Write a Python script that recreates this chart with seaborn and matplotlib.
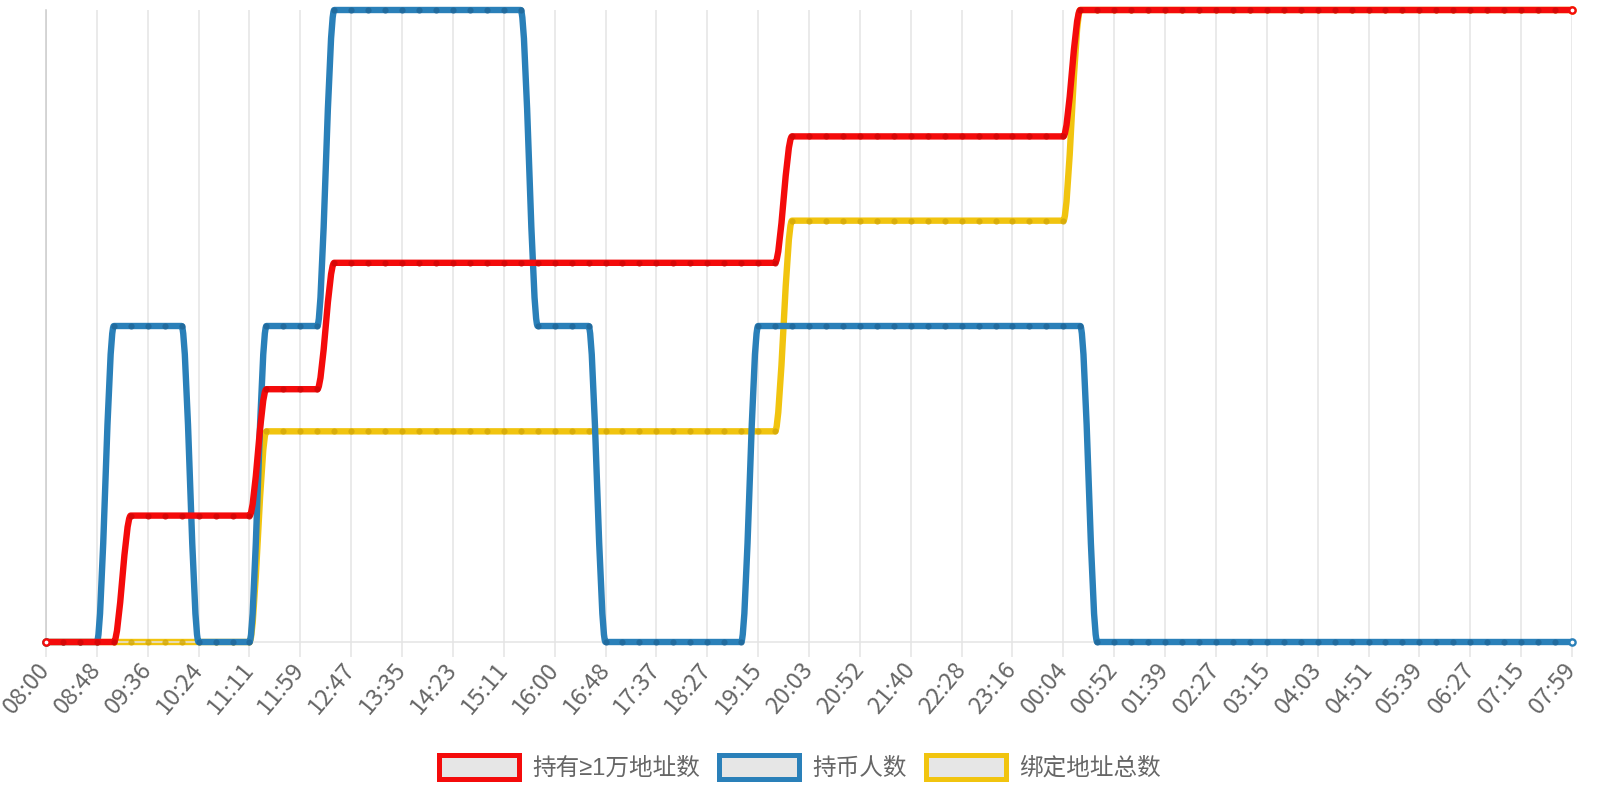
import numpy as np
import matplotlib
matplotlib.use("Agg")
import matplotlib.pyplot as plt
import seaborn as sns
from matplotlib.path import Path
from matplotlib.patches import PathPatch, Patch

# ---------------- data ----------------
tick_labels = ["08:00", "08:48", "09:36", "10:24", "11:11", "11:59", "12:47", "13:35",
               "14:23", "15:11", "16:00", "16:48", "17:37", "18:27", "19:15", "20:03",
               "20:52", "21:40", "22:28", "23:16", "00:04", "00:52", "01:39", "02:27",
               "03:15", "04:03", "04:51", "05:39", "06:27", "07:15", "07:59"]

series_names = ["持有≥1万地址数", "持币人数", "绑定地址总数"]
series_colors = ["#f40b0b", "#2a80b9", "#f1c40f"]
marker_colors = ["#cf0707", "#1f6698", "#d4a808"]

holders_10k = [0, 0, 0, 0, 0, 1, 1, 1, 1, 1,
               1, 1, 1, 2, 2, 2, 2, 3, 3, 3,
               3, 3, 3, 3, 3, 3, 3, 3, 3, 3,
               3, 3, 3, 3, 3, 3, 3, 3, 3, 3,
               3, 3, 3, 3, 4, 4, 4, 4, 4, 4,
               4, 4, 4, 4, 4, 4, 4, 4, 4, 4,
               4, 5, 5, 5, 5, 5, 5, 5, 5, 5,
               5, 5, 5, 5, 5, 5, 5, 5, 5, 5,
               5, 5, 5, 5, 5, 5, 5, 5, 5, 5,
               5]

holders = [0, 0, 0, 0, 1, 1, 1, 1, 1, 0,
           0, 0, 0, 1, 1, 1, 1, 2, 2, 2,
           2, 2, 2, 2, 2, 2, 2, 2, 2, 1,
           1, 1, 1, 0, 0, 0, 0, 0, 0, 0,
           0, 0, 1, 1, 1, 1, 1, 1, 1, 1,
           1, 1, 1, 1, 1, 1, 1, 1, 1, 1,
           1, 1, 0, 0, 0, 0, 0, 0, 0, 0,
           0, 0, 0, 0, 0, 0, 0, 0, 0, 0,
           0, 0, 0, 0, 0, 0, 0, 0, 0, 0,
           0]

bound_total = [0, 0, 0, 0, 0, 0, 0, 0, 0, 0,
               0, 0, 0, 1, 1, 1, 1, 1, 1, 1,
               1, 1, 1, 1, 1, 1, 1, 1, 1, 1,
               1, 1, 1, 1, 1, 1, 1, 1, 1, 1,
               1, 1, 1, 1, 2, 2, 2, 2, 2, 2,
               2, 2, 2, 2, 2, 2, 2, 2, 2, 2,
               2, 3, 3, 3, 3, 3, 3, 3, 3, 3,
               3, 3, 3, 3, 3, 3, 3, 3, 3, 3,
               3, 3, 3, 3, 3, 3, 3, 3, 3, 3,
               3]

# ---------------- style ----------------
sns.set_theme(style="white")
plt.rcParams["font.family"] = ["Noto Sans CJK SC", "DejaVu Sans"]

fig = plt.figure(figsize=(16, 8), dpi=100)
ax_y = fig.add_axes([0.02875, 0.1975, 0.95375, 0.79])
ax_b = ax_y.twinx()
ax_r = ax_y.twinx()

n = len(holders_10k)
idx = np.arange(n)
tick_pos = idx[::3]

for ax in (ax_y, ax_b, ax_r):
    ax.set_xlim(0, n - 1)
    ax.set_yticks([])
    ax.tick_params(axis="y", left=False, right=False, labelleft=False, labelright=False)
    for s in ax.spines.values():
        s.set_visible(False)

ax_y.set_ylim(0, max(bound_total))
ax_b.set_ylim(0, max(holders))
ax_r.set_ylim(0, max(holders_10k))

ax_y.spines["left"].set_visible(True)
ax_y.spines["left"].set_color("#cccccc")
ax_y.spines["left"].set_linewidth(1.1)
ax_y.spines["bottom"].set_visible(True)
ax_y.spines["bottom"].set_color("#e4e4e4")
ax_y.spines["bottom"].set_linewidth(1.1)

ax_y.set_xticks(tick_pos)
ax_y.set_xticklabels(tick_labels, rotation=50, ha="right", va="center",
                     rotation_mode="anchor", color="#666666", fontsize=17)
ax_y.tick_params(axis="x", length=11, width=1.1, color="#e4e4e4", pad=6, bottom=True)
ax_y.grid(axis="x", color="#e4e4e4", linewidth=1.1)
ax_y.grid(axis="y", visible=False)


def monotone_curve(xs, ys):
    """Chart.js 'monotone' cubic interpolation (Fritsch-Carlson) as a bezier Path."""
    xs = np.asarray(xs, float)
    ys = np.asarray(ys, float)
    m = len(xs)
    dk = np.diff(ys) / np.diff(xs)
    mk = np.zeros(m)
    mk[0] = dk[0]
    mk[-1] = dk[-1]
    for i in range(1, m - 1):
        mk[i] = 0.0 if dk[i - 1] * dk[i] <= 0 else (dk[i - 1] + dk[i]) / 2
    for i in range(m - 1):
        if abs(dk[i]) < 1e-12:
            mk[i] = mk[i + 1] = 0.0
            continue
        a = mk[i] / dk[i]
        b = mk[i + 1] / dk[i]
        sq = a * a + b * b
        if sq <= 9:
            continue
        tau = 3 / np.sqrt(sq)
        mk[i] = a * tau * dk[i]
        mk[i + 1] = b * tau * dk[i]
    verts = [(xs[0], ys[0])]
    codes = [Path.MOVETO]
    for i in range(m - 1):
        dx = (xs[i + 1] - xs[i]) / 3
        verts += [(xs[i] + dx, ys[i] + dx * mk[i]),
                  (xs[i + 1] - dx, ys[i + 1] - dx * mk[i + 1]),
                  (xs[i + 1], ys[i + 1])]
        codes += [Path.CURVE4] * 3
    return Path(verts, codes)


plot_order = [(ax_y, bound_total, 2), (ax_b, holders, 1), (ax_r, holders_10k, 0)]
for ax, vals, k in plot_order:
    patch = PathPatch(monotone_curve(idx, vals), facecolor="none", edgecolor=series_colors[k],
                      linewidth=4.6, capstyle="round", joinstyle="round",
                      clip_on=False, zorder=2)
    ax.add_patch(patch)
    sns.scatterplot(x=idx[1:-1], y=np.array(vals)[1:-1], ax=ax, color=marker_colors[k],
                    s=20, linewidth=0, alpha=0.8, zorder=3, clip_on=False, legend=False)
    sns.scatterplot(x=idx[[0, -1]], y=np.array(vals)[[0, -1]], ax=ax, facecolor="white",
                    edgecolor=series_colors[k], s=20, linewidth=1.7, zorder=4,
                    clip_on=False, legend=False)
    ax.set_xlim(0, n - 1)
    ax.set_ylabel("")
    ax.set_xlabel("")

handles = [Patch(facecolor="#e6e6e6", edgecolor=c, linewidth=3.6) for c in series_colors]
fig.legend(handles, series_names, loc="center", bbox_to_anchor=(0.5, 0.041), ncol=3,
           frameon=False,
           prop={"family": ["Liberation Sans", "Noto Sans CJK SC", "DejaVu Sans"], "size": 17},
           handlelength=3.4, handleheight=1.2, handletextpad=0.55, columnspacing=0.8,
           labelcolor="#666666")

fig.savefig("out.png", dpi=100)
